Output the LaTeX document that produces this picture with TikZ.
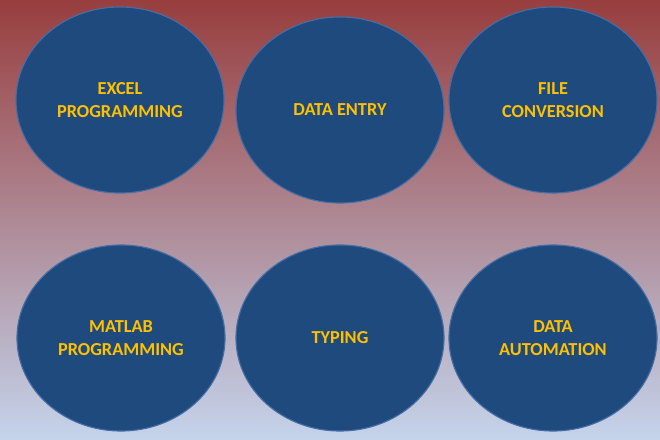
\documentclass[tikz,border=0pt]{standalone}
\usepackage{fontspec}
\setmainfont{Carlito}
\usepackage{tikz}
\usetikzlibrary{shapes.geometric,positioning}
\definecolor{bgtop}{RGB}{152,62,62}
\definecolor{bgmid}{RGB}{176,134,150}
\definecolor{bgbot}{RGB}{196,212,236}
\definecolor{taskblue}{RGB}{31,74,126}
\definecolor{taskedge}{RGB}{70,110,165}
\definecolor{taskgold}{RGB}{255,192,0}

\tikzset{
  task/.style={ellipse, draw=taskedge, line width=0.8pt, fill=taskblue,
    minimum width=5.2cm, minimum height=4.65cm, inner sep=0pt,
    align=center, text=taskgold, font=\fontsize{13}{16.5}\selectfont\bfseries}
}

\begin{document}
\begin{tikzpicture}[x=0.025cm,y=-0.025cm]
    % background
    \shade[top color=bgtop, middle color=bgmid, bottom color=bgbot]
        (0,0) rectangle (660,440);
    \useasboundingbox (0,0) rectangle (660,440);

    % top row
    \node[task] (excel) at (120,100) {EXCEL\\PROGRAMMING};
    \node[task] (entry) at (340,110) {DATA ENTRY};
    \node[task] (conv)  at (553,100) {FILE\\CONVERSION};

    % bottom row
    \node[task] (matlab) at (121,338) {MATLAB\\PROGRAMMING};
    \node[task] (typing) at (340,338) {TYPING};
    \node[task] (auto)   at (553,338) {DATA\\AUTOMATION};
\end{tikzpicture}
\end{document}
